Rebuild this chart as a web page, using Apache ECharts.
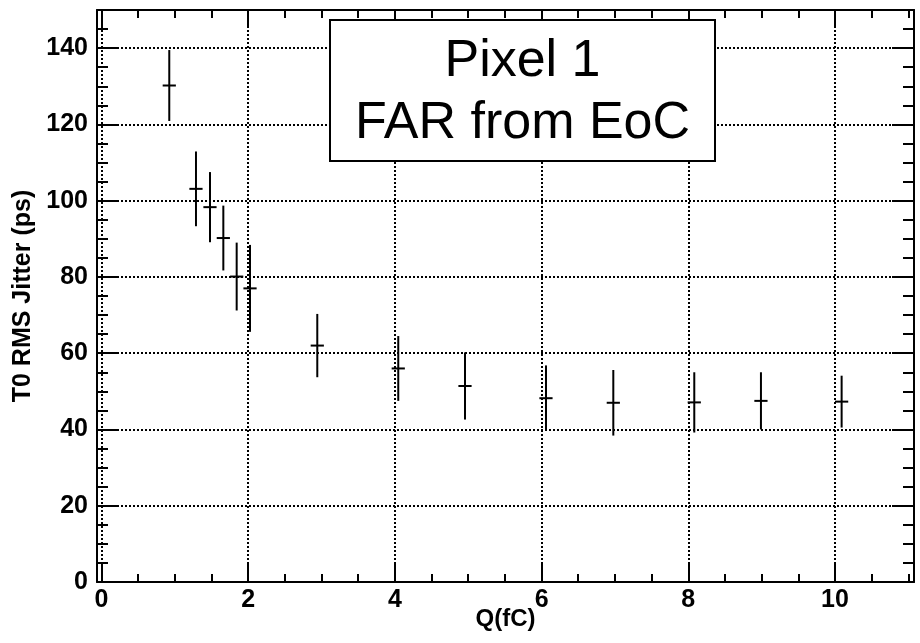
<!DOCTYPE html>
<html>
<head>
<meta charset="utf-8">
<script src="https://cdn.jsdelivr.net/npm/echarts@6/dist/echarts.min.js"></script>
<style>
html,body{margin:0;padding:0;background:#fff;}
#chart{width:920px;height:643px;}
</style>
</head>
<body>
<div id="chart"></div>
<script>
// Data
const qValues = [0.924, 1.288, 1.479, 1.661, 1.843, 2.025, 2.942, 4.046, 4.956, 6.06, 6.978, 8.082, 8.991, 10.091];
const jitterValues = [130.2, 103.1, 98.3, 90.2, 80.1, 77.0, 62.0, 56.0, 51.4, 48.2, 47.0, 47.1, 47.5, 47.3];
const jitterErrors = [9.3, 9.8, 9.2, 8.5, 8.9, 11.4, 8.3, 8.5, 8.8, 8.6, 8.6, 7.9, 7.5, 6.8];
const qErrors = [0.09, 0.09, 0.09, 0.09, 0.09, 0.09, 0.09, 0.09, 0.09, 0.09, 0.09, 0.09, 0.09, 0.09];
const xTickLabels = ['0', '2', '4', '6', '8', '10'];
const yTickLabels = ['0', '20', '40', '60', '80', '100', '120', '140'];
const boxLines = ['Pixel 1', 'FAR from EoC'];
const xTitle = 'Q(fC)';
const yTitle = 'T0 RMS Jitter (ps)';

const FONT = "'Liberation Sans', Arial, Helvetica, sans-serif";
const chart = echarts.init(document.getElementById('chart'), null, {renderer: 'canvas'});

const dotted = {show: true, lineStyle: {color: '#000', width: 2, type: [2, 2]}};
const solidLine = {show: true, onZero: false, lineStyle: {color: '#000', width: 2}};

const data = qValues.map((q, i) => [q, jitterValues[i], jitterErrors[i], qErrors[i]]);

const option = {
  animation: false,
  backgroundColor: '#fff',
  grid: [
    {left: 97, right: 6, top: 10, bottom: 61, outerBoundsMode: 'none'},
    {left: 101.5, right: 11.7, top: 10, bottom: 61, outerBoundsMode: 'none'},
    {left: 101.5, right: 85, top: 10, bottom: 61, outerBoundsMode: 'none'}
  ],
  xAxis: [
    {gridIndex: 0, type: 'value', position: 'bottom', min: 0, max: 1,
     axisLine: solidLine, axisTick: {show: false}, axisLabel: {show: false}, splitLine: {show: false},
     name: xTitle, nameLocation: 'middle', nameGap: 25,
     nameTextStyle: {fontFamily: FONT, fontWeight: 'bold', fontSize: 24, color: '#000', verticalAlign: 'top'}},
    {gridIndex: 0, type: 'value', position: 'top', min: 0, max: 1,
     axisLine: solidLine, axisTick: {show: false}, axisLabel: {show: false}, splitLine: {show: false}},
    {gridIndex: 1, type: 'value', position: 'bottom', min: 0, max: 11, interval: 0.5,
     axisLine: {show: false, onZero: false}, axisTick: {show: true, inside: true, length: 8, lineStyle: {color: '#000', width: 2}},
     axisLabel: {show: false}, splitLine: {show: false}},
    {gridIndex: 1, type: 'value', position: 'top', min: 0, max: 11, interval: 0.5,
     axisLine: {show: false, onZero: false}, axisTick: {show: true, inside: true, length: 8, lineStyle: {color: '#000', width: 2}},
     axisLabel: {show: false}, splitLine: {show: false}},
    {gridIndex: 2, type: 'value', position: 'bottom', min: 0, max: 10, interval: 2,
     axisLine: {show: false, onZero: false}, axisTick: {show: true, inside: true, length: 20, lineStyle: {color: '#000', width: 2}},
     axisLabel: {show: true, margin: 6, fontFamily: FONT, fontWeight: 'bold', fontSize: 25, color: '#000',
       formatter: (v) => xTickLabels[Math.round(v / 2)] || ''},
     splitLine: dotted},
    {gridIndex: 2, type: 'value', position: 'top', min: 0, max: 10, interval: 2,
     axisLine: {show: false, onZero: false}, axisTick: {show: true, inside: true, length: 18, lineStyle: {color: '#000', width: 2}},
     axisLabel: {show: false}, splitLine: {show: false}}
  ],
  yAxis: [
    {gridIndex: 0, type: 'value', position: 'left', min: 0, max: 150, interval: 20,
     axisLine: solidLine, axisTick: {show: true, inside: true, length: 22, lineStyle: {color: '#000', width: 2}},
     axisLabel: {show: true, margin: 9, showMaxLabel: false, fontFamily: FONT, fontWeight: 'bold', fontSize: 25, color: '#000',
       formatter: (v) => (v % 20 === 0 ? (yTickLabels[v / 20] || '') : '')},
     splitLine: Object.assign({showMinLine: false, showMaxLine: false}, dotted),
     name: yTitle, nameLocation: 'middle', nameGap: 53,
     nameTextStyle: {fontFamily: FONT, fontWeight: 'bold', fontSize: 25, color: '#000'}},
    {gridIndex: 0, type: 'value', position: 'right', min: 0, max: 150, interval: 20,
     axisLine: solidLine, axisTick: {show: true, inside: true, length: 22, lineStyle: {color: '#000', width: 2}},
     axisLabel: {show: false}, splitLine: {show: false}},
    {gridIndex: 0, type: 'value', position: 'left', min: 0, max: 150, interval: 5,
     axisLine: {show: false, onZero: false}, axisTick: {show: true, inside: true, length: 11, lineStyle: {color: '#000', width: 2}},
     axisLabel: {show: false}, splitLine: {show: false}},
    {gridIndex: 0, type: 'value', position: 'right', min: 0, max: 150, interval: 5,
     axisLine: {show: false, onZero: false}, axisTick: {show: true, inside: true, length: 11, lineStyle: {color: '#000', width: 2}},
     axisLabel: {show: false}, splitLine: {show: false}},
    {gridIndex: 1, type: 'value', position: 'left', min: 0, max: 150, show: false, axisLine: {onZero: false}},
    {gridIndex: 2, type: 'value', position: 'left', min: 0, max: 150, show: false, axisLine: {onZero: false}}
  ],
  series: [{
    type: 'custom',
    xAxisIndex: 2,
    yAxisIndex: 4,
    clip: false,
    data: data,
    encode: {x: 0, y: 1},
    renderItem: function (params, api) {
      const x = api.value(0), y = api.value(1), ey = api.value(2), ex = api.value(3);
      const top = api.coord([x, y + ey]);
      const bot = api.coord([x, y - ey]);
      const l = api.coord([x - ex, y]);
      const r = api.coord([x + ex, y]);
      const st = {stroke: '#000', lineWidth: 2};
      return {
        type: 'group',
        children: [
          {type: 'line', shape: {x1: top[0], y1: top[1], x2: bot[0], y2: bot[1]}, style: st},
          {type: 'line', shape: {x1: l[0], y1: l[1], x2: r[0], y2: r[1]}, style: st}
        ]
      };
    }
  }],
  graphic: [
    {type: 'rect', z: 100, zlevel: 1, shape: {x: 330, y: 20, width: 385, height: 141},
     style: {fill: '#fff', stroke: '#000', lineWidth: 2}},
    {type: 'text', z: 101, zlevel: 1, x: 522.5, y: 62,
     style: {text: boxLines[0], fontFamily: FONT, fontSize: 52, fill: '#000', align: 'center', verticalAlign: 'middle'}},
    {type: 'text', z: 101, zlevel: 1, x: 522.5, y: 124,
     style: {text: boxLines[1], fontFamily: FONT, fontSize: 52, fill: '#000', align: 'center', verticalAlign: 'middle'}}
  ]
};
chart.setOption(option);
</script>
</body>
</html>
